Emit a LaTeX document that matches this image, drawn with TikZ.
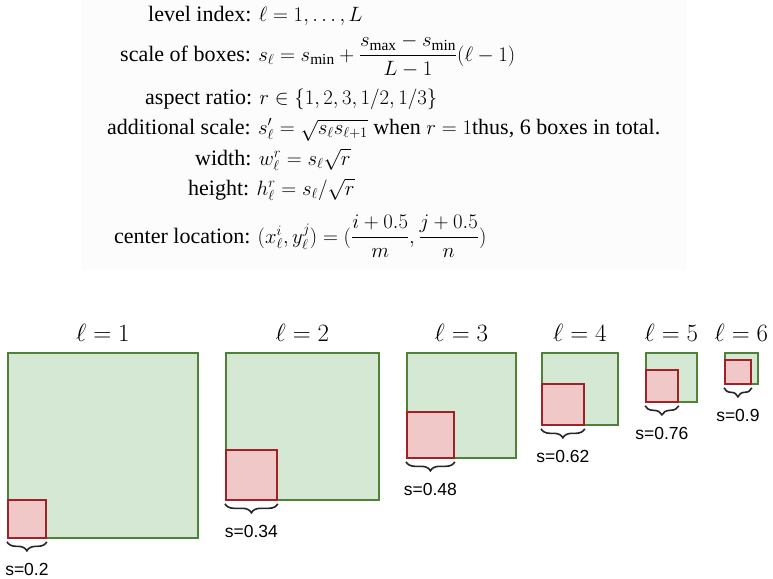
\documentclass[tikz,border=0pt]{standalone}
\usepackage{amsmath}
\usepackage{fontspec}
\setmainfont{Liberation Serif}
\newfontfamily\labelsans{Liberation Sans}
\usetikzlibrary{decorations.pathreplacing}
\definecolor{gfill}{HTML}{D5E8D4}
\definecolor{gline}{HTML}{4E8237}
\definecolor{rfill}{HTML}{F0C8C8}
\definecolor{rline}{HTML}{A02227}
\definecolor{panelgray}{HTML}{FCFCFC}
\begin{document}
\begin{tikzpicture}[x=1pt,y=-1pt,
  formula/.style={anchor=base west, inner sep=0pt, font=\fontsize{22}{26}\selectfont},
  panelbox/.style={fill=panelgray, draw=none, inner sep=0pt, anchor=north west},
  gbox/.style={draw=gline, fill=gfill, line width=1.8pt, inner sep=0pt, anchor=north west},
  rbox/.style={draw=rline, fill=rfill, line width=1.8pt, inner sep=0pt, anchor=south west},
  lvl/.style={anchor=base, inner sep=0pt, font=\fontsize{23}{26}\selectfont},
  sval/.style={anchor=base, inner sep=0pt, font=\labelsans\fontsize{17.5}{20}\selectfont},
  bracestyle/.style={decorate, decoration={brace, mirror, amplitude=9pt}, line width=1.6pt, draw=black!85}
]
\useasboundingbox (0,0) rectangle (773,578);
\node[panelbox, minimum width=606pt, minimum height=269pt] (panel) at (81,0) {};

% formulas
\node[formula] (f1) at (148,22) {level index: $\ell = 1, \ldots, L$};
\node[formula] (f2) at (120,61) {scale of boxes: $s_\ell = s_{\min} + \dfrac{s_{\max}-s_{\min}}{L-1}(\ell-1)$};
\node[formula] (f3) at (145,104) {aspect ratio: $r \in \{1, 2, 3, 1/2, 1/3\}$};
\node[formula] (f4) at (107,134) {additional scale: $s'_\ell = \sqrt{s_\ell s_{\ell+1}}$ when $r = 1$thus, 6 boxes in total.};
\node[formula] (f5) at (195,165) {width: $w_\ell^r = s_\ell\sqrt{r}$};
\node[formula] (f6) at (188,195) {height: $h_\ell^r = s_\ell/\sqrt{r}$};
\node[formula] (f7) at (114,243) {center location: $(x_\ell^i, y_\ell^j) = (\dfrac{i+0.5}{m}, \dfrac{j+0.5}{n})$};

% boxes
\node[gbox, minimum width=190pt, minimum height=185pt] (g1) at (7,352) {};
\node[rbox, minimum width=38pt, minimum height=38pt] (r1) at (g1.south west) {};
\node[gbox, minimum width=153pt, minimum height=147pt] (g2) at (225,352) {};
\node[rbox, minimum width=51pt, minimum height=50pt] (r2) at (g2.south west) {};
\node[gbox, minimum width=109pt, minimum height=105pt] (g3) at (406,352) {};
\node[rbox, minimum width=47pt, minimum height=46pt] (r3) at (g3.south west) {};
\node[gbox, minimum width=76pt, minimum height=72pt] (g4) at (541,352) {};
\node[rbox, minimum width=42pt, minimum height=41pt] (r4) at (g4.south west) {};
\node[gbox, minimum width=51pt, minimum height=49pt] (g5) at (645,352) {};
\node[rbox, minimum width=32pt, minimum height=32pt] (r5) at (g5.south west) {};
\node[gbox, minimum width=33pt, minimum height=31pt] (g6) at (724,352) {};
\node[rbox, minimum width=26pt, minimum height=24pt] (r6) at (g6.south west) {};

% level labels
\foreach \i in {1,...,6} {
  \node[lvl] (l\i) at ([yshift=11pt]g\i.north) {$\ell = \i$};
}

% braces and values
\foreach \i/\v in {1/0.2, 2/0.34, 3/0.48, 4/0.62, 5/0.76, 6/0.9} {
  \draw[bracestyle] ([yshift=-3pt]r\i.south west) -- ([yshift=-3pt]r\i.south east);
  \node[sval] (s\i) at ([yshift=-37pt]r\i.south) {s=\v};
}
\end{tikzpicture}
\end{document}
